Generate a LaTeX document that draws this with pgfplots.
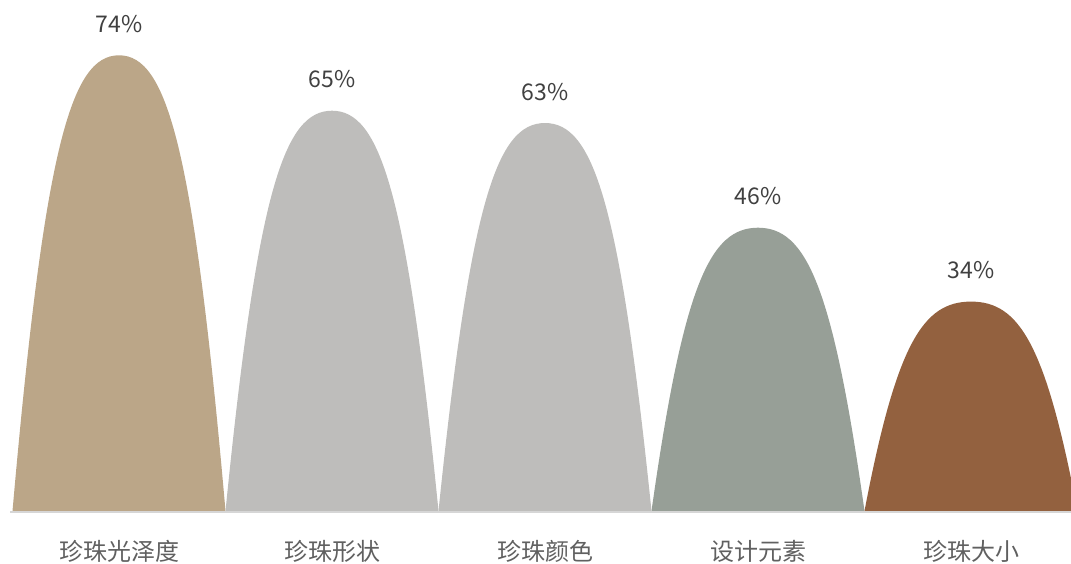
\documentclass[border=0pt]{standalone}
\usepackage{pgfplots}
\pgfplotsset{compat=1.18}
\usepackage{fontspec}
\setmainfont{Noto Sans CJK SC}
\definecolor{c1}{RGB}{187,166,136}
\definecolor{c2}{RGB}{190,189,187}
\definecolor{c3}{RGB}{190,189,187}
\definecolor{c4}{RGB}{151,159,151}
\definecolor{c5}{RGB}{147,97,63}
\definecolor{basegray}{RGB}{214,214,214}
\definecolor{valtext}{RGB}{64,64,64}
\definecolor{cattext}{RGB}{96,96,96}
% arch-shaped bar: drawn from the data point (peak) down to the baseline y=0
\pgfdeclareplotmark{arch}{%
  \pgfmathsetmacro\archh{\rawy*6.158}%
  \pgfmathsetmacro\archc{0.2*\archh}%
  \pgfpathmoveto{\pgfpoint{-106.5pt}{-\archh pt}}%
  \pgfpathcurveto{\pgfpoint{-74.55pt}{-\archc pt}}{\pgfpoint{-47.925pt}{0pt}}{\pgfpoint{0pt}{0pt}}%
  \pgfpathcurveto{\pgfpoint{47.925pt}{0pt}}{\pgfpoint{74.55pt}{-\archc pt}}{\pgfpoint{106.5pt}{-\archh pt}}%
  \pgfpathclose
  \pgfusepathqfill
}
\begin{document}
\begin{tikzpicture}
\begin{axis}[
  x=213pt, y=6.158pt,
  xmin=-0.5587, xmax=4.4695,
  ymin=-8.607, ymax=82.98,
  separate axis lines,
  axis line style={draw=none},
  ytick=\empty,
  xtick={0,1,2,3,4},
  xticklabels={珍珠光泽度,珍珠形状,珍珠颜色,设计元素,珍珠大小},
  xtick style={draw=none},
  major tick length=0pt,
  xticklabel style={anchor=base, yshift=3pt, inner sep=0pt, text=cattext, font=\fontsize{24}{28}\selectfont},
  visualization depends on={rawy \as \rawy},
  nodes near coords={\pgfmathprintnumber[assume math mode=true]{\pgfplotspointmeta}\%},
  every node near coord/.append style={anchor=base, yshift=23pt, inner sep=0pt, text=valtext, font=\fontsize{23}{28}\selectfont},
  point meta=y,
]
\addplot[draw=basegray, line width=2.5pt, no markers, nodes near coords={}] coordinates {(-0.5117,-0.2) (4.4695,-0.2)};
\addplot[only marks, mark=arch, fill=c1, draw=none, mark options={fill=c1, draw=none}] coordinates {(0,74)};
\addplot[only marks, mark=arch, fill=c2, draw=none, mark options={fill=c2, draw=none}] coordinates {(1,65)};
\addplot[only marks, mark=arch, fill=c3, draw=none, mark options={fill=c3, draw=none}] coordinates {(2,63)};
\addplot[only marks, mark=arch, fill=c4, draw=none, mark options={fill=c4, draw=none}] coordinates {(3,46)};
\addplot[only marks, mark=arch, fill=c5, draw=none, mark options={fill=c5, draw=none}] coordinates {(4,34)};
\end{axis}
\pgfresetboundingbox
\useasboundingbox (current axis.south west) rectangle (current axis.north east);
\end{tikzpicture}
\end{document}
